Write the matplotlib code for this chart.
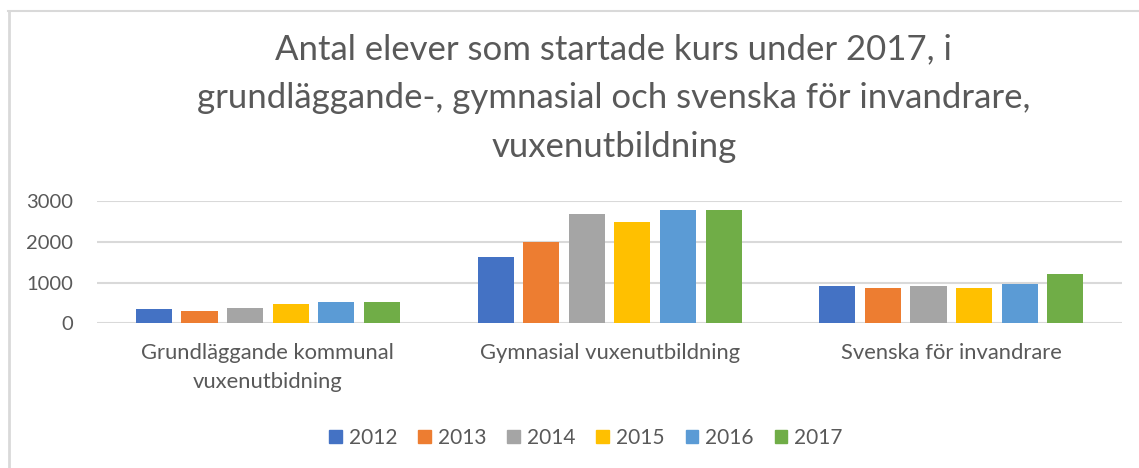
import matplotlib.pyplot as plt
import numpy as np
from matplotlib.lines import Line2D

# Data
categories = ['Grundläggande kommunal\nvuxenutbidning', 'Gymnasial vuxenutbildning', 'Svenska för invandrare']
years = ['2012', '2013', '2014', '2015', '2016', '2017']
v2012 = [343, 1619, 916]
v2013 = [311, 2003, 875]
v2014 = [376, 2682, 908]
v2015 = [482, 2486, 875]
v2016 = [515, 2780, 965]
v2017 = [523, 2788, 1202]
series = [v2012, v2013, v2014, v2015, v2016, v2017]
colors = ['#4472C4', '#ED7D31', '#A5A5A5', '#FFC000', '#5B9BD5', '#70AD47']

plt.rcParams['font.family'] = ['Lato', 'DejaVu Sans']
txt = '#595959'

fig = plt.figure(figsize=(11.39, 4.68), dpi=100)
ax = fig.add_axes([0.0852, 0.309, 0.9, 0.2615])

x = np.arange(len(categories))
step = 0.1334
width = 0.1056
for i, (vals, c, yr) in enumerate(zip(series, colors, years)):
    ax.bar(x + (i - 2.5) * step, vals, width, color=c, label=yr, zorder=3)

ax.set_xlim(-0.5, 2.5)
ax.set_ylim(0, 3000)
ax.set_yticks([0, 1000, 2000, 3000])
ax.set_xticks(x)
ax.set_xticklabels(categories, fontsize=15.8, color=txt, linespacing=1.55)
ax.tick_params(axis='y', labelsize=14.5, labelcolor=txt, length=0, pad=17)
ax.tick_params(axis='x', length=0, pad=14)
ax.grid(axis='y', color='#D9D9D9', linewidth=1.5, zorder=0)
for s in ax.spines.values():
    s.set_visible(False)

fig.text(0.539, 0.791, 'Antal elever som startade kurs under 2017, i\n'
         'grundläggande-, gymnasial och svenska för invandrare,\nvuxenutbildning',
         ha='center', va='center', fontsize=25, color=txt, linespacing=1.65)

handles = [plt.Rectangle((0, 0), 1, 1, color=c) for c in colors]
fig.legend(handles, years, loc='center', bbox_to_anchor=(586 / 1139, 1 - 438 / 468),
           ncol=6, frameon=False, fontsize=15, labelcolor=txt,
           handlelength=0.6, handleheight=0.6, handletextpad=0.35, columnspacing=1.0)

# chart border (top and left edges visible)
fig.add_artist(Line2D([8 / 1139, 1], [1 - 11 / 468] * 2, color='#D9D9D9', lw=1.5))
fig.add_artist(Line2D([9 / 1139] * 2, [0, 1 - 11 / 468], color='#D9D9D9', lw=2))

fig.savefig('out.png', dpi=100)
